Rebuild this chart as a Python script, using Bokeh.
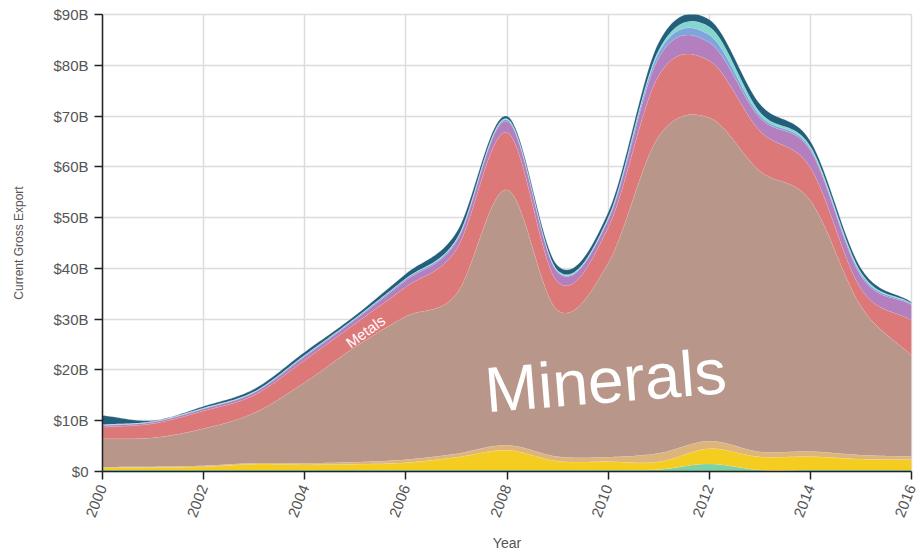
import numpy as np
from bokeh.plotting import figure
from bokeh.models import Range1d, FixedTicker
from bokeh.core.properties import value
from bokeh.embed import file_html
from bokeh.resources import INLINE

# ---------------- data (billions of USD, current gross export) ----------------
years = list(range(2000, 2017))

layer_names = ["Green group", "Yellow group", "Tan group", "Minerals", "Metals",
               "Purple group", "Light blue group", "Cyan group", "Teal group"]

green     = [0.3, 0.3, 0.3, 0.3, 0.3, 0.3, 0.3, 0.3, 0.3, 0.3, 0.3, 0.4, 1.5, 0.3, 0.3, 0.3, 0.3]
yellow    = [0.45, 0.5, 0.65, 1.15, 1.05, 1.15, 1.45, 2.5, 3.9, 1.75, 1.65, 1.5, 3.0, 2.6, 2.65, 2.15, 2.05]
tan       = [0.15, 0.15, 0.2, 0.2, 0.3, 0.4, 0.6, 0.7, 1.0, 0.9, 0.9, 1.7, 1.5, 1.0, 1.0, 0.8, 0.6]
minerals  = [5.55, 5.7, 7.3, 9.9, 15.9, 22.7, 28.2, 31.5, 50.3, 28.8, 38.2, 62.4, 63.7, 55.3, 49.4, 29.3, 19.9]
metals    = [2.3, 2.8, 3.5, 3.5, 4.4, 4.6, 5.8, 8.8, 11.3, 5.6, 7.0, 12.0, 11.2, 7.9, 6.5, 3.5, 6.9]
purple    = [0.3, 0.3, 0.4, 0.5, 0.7, 0.8, 1.3, 1.5, 2.2, 1.9, 1.5, 3.5, 3.6, 2.6, 3.4, 2.5, 3.1]
lightblue = [0.1, 0.1, 0.1, 0.1, 0.2, 0.2, 0.3, 0.3, 0.3, 0.2, 0.3, 1.0, 1.5, 0.5, 0.4, 0.4, 0.2]
cyan      = [0.1, 0.05, 0.1, 0.1, 0.1, 0.1, 0.1, 0.2, 0.2, 0.2, 0.2, 0.5, 1.6, 0.6, 0.4, 0.3, 0.1]
teal      = [1.8, 0.15, 0.3, 0.5, 0.6, 0.5, 0.9, 1.3, 0.5, 0.9, 1.0, 1.5, 1.4, 1.6, 1.0, 0.8, 0.2]

series = [green, yellow, tan, minerals, metals, purple, lightblue, cyan, teal]
colors = ["#7dd1a5", "#f5cd21", "#dcb47c", "#b9968a", "#dc7877",
          "#b47fbf", "#7ea6dc", "#84d6cf", "#235f7b"]

x_ticks = list(range(2000, 2017, 2))
y_ticks = list(range(0, 91, 10))
y_tick_labels = ["$0"] + ["$%dB" % v for v in y_ticks[1:]]


# ---------------- smooth curve rendering (cardinal / Catmull-Rom) ----------------
def curve(xs, ys, n=24):
    xs = np.asarray(xs, float)
    ys = np.asarray(ys, float)
    m = np.zeros_like(ys)
    m[1:-1] = (ys[2:] - ys[:-2]) / (xs[2:] - xs[:-2])
    m[0] = (ys[1] - ys[0]) / (xs[1] - xs[0])
    m[-1] = (ys[-1] - ys[-2]) / (xs[-1] - xs[-2])
    out_x, out_y = [], []
    for i in range(len(xs) - 1):
        h = xs[i + 1] - xs[i]
        t = np.linspace(0, 1, n, endpoint=False)
        h00 = 2 * t**3 - 3 * t**2 + 1
        h10 = t**3 - 2 * t**2 + t
        h01 = -2 * t**3 + 3 * t**2
        h11 = t**3 - t**2
        out_x.append(xs[i] + t * h)
        out_y.append(h00 * ys[i] + h10 * h * m[i] + h01 * ys[i + 1] + h11 * h * m[i + 1])
    out_x.append([xs[-1]])
    out_y.append([ys[-1]])
    return np.concatenate(out_x), np.concatenate(out_y)


p = figure(width=919, height=554,
           x_range=Range1d(2000, 2016), y_range=Range1d(0, 90),
           output_backend="svg", toolbar_location=None,
           min_border_left=102, min_border_right=8,
           min_border_top=14, min_border_bottom=83)

base = None
for vals, col in zip(series, colors):
    xs_f, thick = curve(years, vals)
    thick = np.clip(thick, 0, None)
    if base is None:
        base = np.zeros_like(thick)
    top = base + thick
    p.varea(x=xs_f, y1=base, y2=top, fill_color=col, fill_alpha=1.0)
    p.line(x=xs_f, y=top, line_color="white", line_alpha=0.25, line_width=1)
    base = top

# labels
p.text(x=[2009.95], y=[17.9], text=["Minerals"], angle=0.08,
       text_align="center", text_baseline="middle",
       text_font=value("Liberation Sans"), text_font_size="64px",
       text_color="white")
p.text(x=[2005.2], y=[27.6], text=["Metals"], angle=0.62,
       text_align="center", text_baseline="middle",
       text_font=value("Liberation Sans"), text_font_size="15px",
       text_color="white")

# axes
p.xaxis.ticker = FixedTicker(ticks=x_ticks)
p.yaxis.ticker = FixedTicker(ticks=y_ticks)
p.yaxis.major_label_overrides = {v: lab for v, lab in zip(y_ticks, y_tick_labels)}
p.xaxis.major_label_orientation = 1.2
p.xaxis.axis_label = "Year"
p.yaxis.axis_label = "Current Gross Export"

for ax in (p.xaxis, p.yaxis):
    ax.axis_line_color = "#222222"
    ax.axis_line_width = 1.5
    ax.major_tick_line_color = "#222222"
    ax.major_tick_line_width = 1.5
    ax.major_tick_out = 8
    ax.major_tick_in = 0
    ax.minor_tick_line_color = None
    ax.major_label_text_font = "Liberation Sans"
    ax.major_label_text_font_size = "15px"
    ax.major_label_text_color = "#555555"
    ax.major_label_standoff = 6
    ax.axis_label_text_font = "Liberation Sans"
    ax.axis_label_text_font_style = "normal"
    ax.axis_label_text_color = "#555555"

p.yaxis.axis_label_text_font_size = "12px"
p.xaxis.axis_label_text_font_size = "14px"
p.yaxis.axis_label_standoff = 24
p.xaxis.axis_label_standoff = 12

p.xgrid.grid_line_color = "#dcdcdc"
p.ygrid.grid_line_color = "#dcdcdc"
p.xgrid.grid_line_width = 1.5
p.ygrid.grid_line_width = 1.5
p.outline_line_color = "#dcdcdc"
p.outline_line_width = 1.5
p.background_fill_color = "white"
p.border_fill_color = "white"

open("out.html", "w").write(file_html(p, INLINE))
